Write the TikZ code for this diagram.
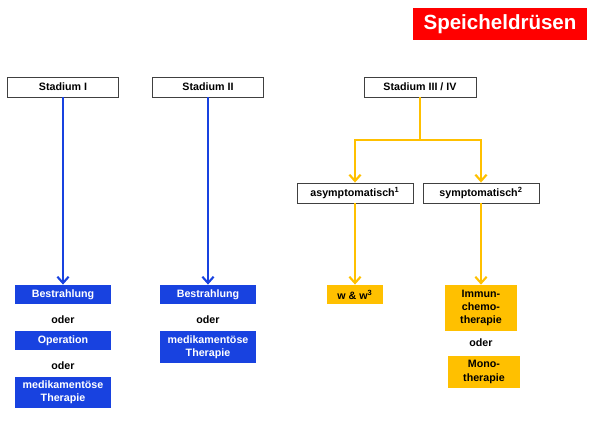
\documentclass[tikz,border=0pt]{standalone}
\usepackage{fontspec}
\setmainfont{Liberation Sans}
\usetikzlibrary{arrows.meta}

\definecolor{stageblue}{RGB}{24,66,224}
\definecolor{stagegold}{RGB}{255,192,0}
\definecolor{titlered}{RGB}{255,0,0}

\begin{document}
\begin{tikzpicture}[x=0.025cm, y=-0.025cm,
        every node/.style={font=\fontsize{7.6}{9.4}\selectfont\bfseries, align=center, inner sep=0pt},
        stagebox/.style={draw=black!75, line width=0.6pt, fill=white, minimum height=0.5cm},
        bluebox/.style={fill=stageblue, text=white, minimum width=2.4cm},
        goldbox/.style={fill=stagegold, text=black},
        bluelink/.style={draw=stageblue, line width=1.5pt, -{Straight Barb[length=4.5pt,width=8pt]}},
        goldlink/.style={draw=stagegold, line width=1.5pt, -{Straight Barb[length=4.5pt,width=8pt]}}]
        \useasboundingbox (0,0) rectangle (600,421);

        % Title
        \node[fill=titlered, text=white, minimum width=4.37cm, minimum height=0.82cm,
              font=\fontsize{14.6}{16}\selectfont\bfseries] (title) at (500,24) {Speicheldrüsen};

        % Stages
        \node[stagebox, minimum width=2.78cm] (st1) at (63,87) {Stadium I};
        \node[stagebox, minimum width=2.78cm] (st2) at (208,87) {Stadium II};
        \node[stagebox, minimum width=2.8cm] (st34) at (420,87) {Stadium III / IV};

        % Stage III / IV split
        \node[stagebox, minimum width=2.9cm] (asym) at (355,193) {asymptomatisch\textsuperscript{1}};
        \node[stagebox, minimum width=2.9cm] (sym) at (481,193) {symptomatisch\textsuperscript{2}};
        \coordinate (fork) at (420,140);

        % Stadium I therapy
        \node[bluebox, minimum height=0.48cm] (best1) at (63,294.5) {Bestrahlung};
        \node (oder1) at (63,320) {oder};
        \node[bluebox, minimum height=0.48cm] (op) at (63,340.5) {Operation};
        \node (oder2) at (63,366) {oder};
        \node[bluebox, minimum height=0.78cm] (med1) at (63,392.5) {medikamentöse\\Therapie};

        % Stadium II therapy
        \node[bluebox, minimum height=0.48cm] (best2) at (208,294.5) {Bestrahlung};
        \node (oder3) at (208,320) {oder};
        \node[bluebox, minimum height=0.8cm] (med2) at (208,347) {medikamentöse\\Therapie};

        % Stadium III / IV therapy
        \node[goldbox, minimum width=1.38cm, minimum height=0.48cm] (ww) at (355,294.5) {w \& w\textsuperscript{3}};
        \node[goldbox, minimum width=1.78cm, minimum height=1.15cm] (immun) at (481,308) {Immun-\\chemo-\\therapie};
        \node (oder4) at (481,343) {oder};
        \node[goldbox, minimum width=1.8cm, minimum height=0.8cm] (mono) at (484,372) {Mono-\\therapie};

        % Connectors
        \draw[bluelink] (st1) -- (best1);
        \draw[bluelink] (st2) -- (best2);
        \draw[goldlink] (st34.south) -- (fork) -| (asym.north);
        \draw[goldlink] (fork) -| (sym.north);
        \draw[goldlink] (asym) -- (ww);
        \draw[goldlink] (sym) -- (immun);

    \end{tikzpicture}
\end{document}
